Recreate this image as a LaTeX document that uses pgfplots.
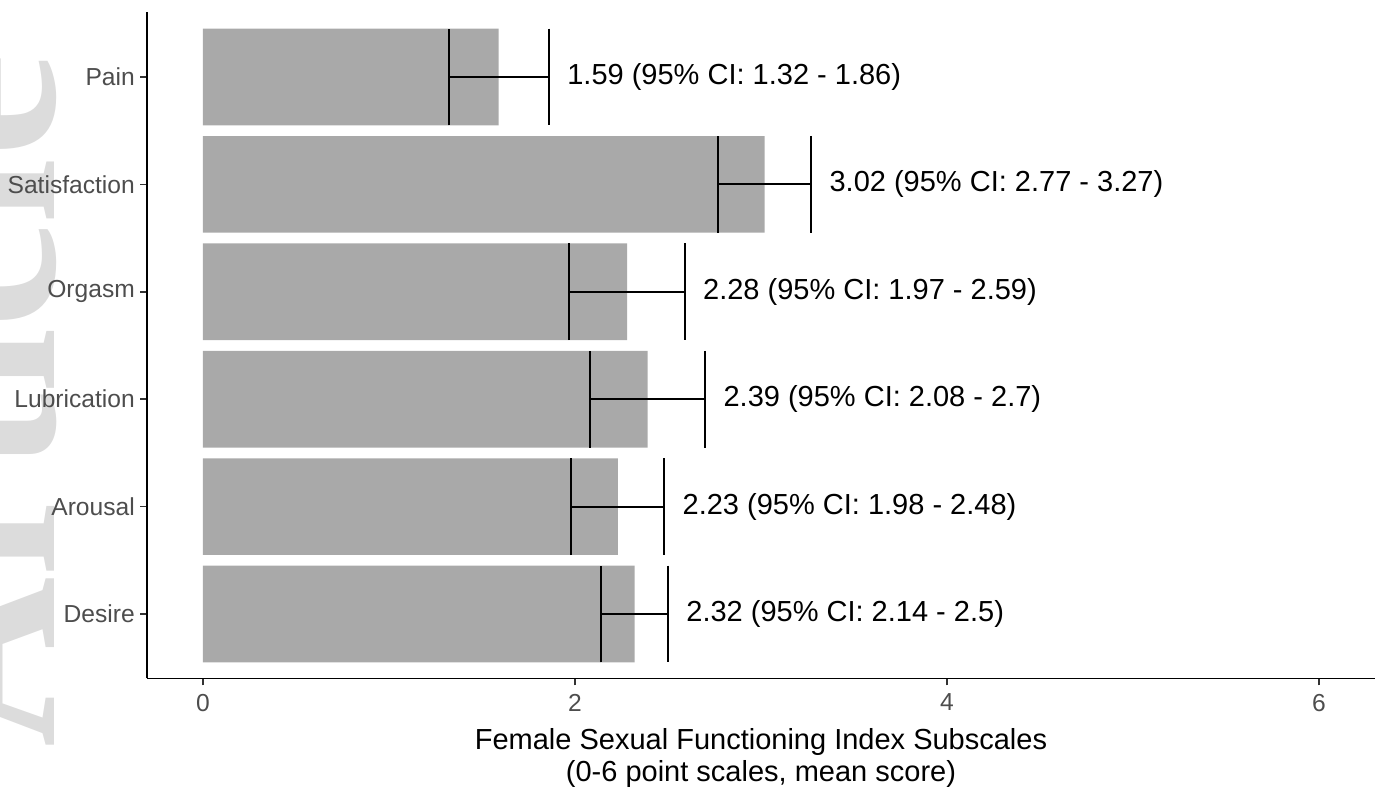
\documentclass[border=0pt]{standalone}
\usepackage{pgfplots}
\pgfplotsset{compat=1.18}
\usepackage{fontspec}
\setmainfont{Liberation Sans}
\newfontfamily\wmfont{Liberation Serif}
\definecolor{bargray}{HTML}{A9A9A9}
\definecolor{ticklab}{HTML}{4D4D4D}
\definecolor{tickcol}{HTML}{333333}
\definecolor{wmgray}{HTML}{DCDCDC}
\begin{document}
\begin{tikzpicture}
\node[rotate=90, anchor=base west, inner sep=0pt, text=wmgray, font=\wmfont\bfseries\fontsize{118}{118}\selectfont] at (27pt,22pt) {Article};
\begin{axis}[
  at={(73.6pt,56.75pt)}, anchor=south west,
  scale only axis, width=613.8pt, height=333pt,
  xmin=-0.3, xmax=6.3, ymin=0.4, ymax=6.6,
  axis lines*=left, axis line style={line width=0.8pt, black, -},
  xtick={0,2,4,6}, ytick={1,2,3,4,5,6},
  yticklabels={Desire,Arousal,Lubrication,Orgasm,Satisfaction,Pain},
  tick align=outside, major tick length=3.5pt,
  tick style={tickcol, line width=0.8pt},
  ticklabel style={font=\fontsize{12.3}{14}\selectfont, text=ticklab},
  yticklabel style={inner sep=0pt, xshift=-2.5pt},
  xticklabel style={inner sep=0pt, yshift=-4pt},
  /pgf/number format/assume math mode=true,
  xlabel={Female Sexual Functioning Index Subscales\\(0-6 point scales, mean score)},
  xlabel style={at={(axis description cs:0.5,0)}, anchor=north, inner sep=0pt, yshift=-25pt, align=center, font=\fontsize{14.5}{16}\selectfont},
  clip=false,
]
\addplot[xbar, bar width=0.9, fill=bargray, draw=none] coordinates {
  (2.32,1) (2.23,2) (2.39,3) (2.28,4) (3.02,5) (1.59,6)
};
\addplot[draw=none, mark=none, forget plot,
  error bars/.cd, x dir=both, x explicit,
  error mark=|,
  error bar style={draw=black, line width=1pt},
  error mark options={draw=black, line width=1pt, mark size=24.2pt}]
  coordinates {
  (2.32,1) +- (0.18,0)
  (2.23,2) +- (0.25,0)
  (2.39,3) +- (0.31,0)
  (2.28,4) +- (0.31,0)
  (3.02,5) +- (0.25,0)
  (1.59,6) +- (0.27,0)
};
\addplot[only marks, mark=*, mark size=0pt, mark options={draw=none, fill=none},
  point meta=explicit symbolic, nodes near coords,
  nodes near coords style={anchor=west, inner sep=0pt, xshift=9pt, font=\fontsize{14.5}{16}\selectfont, text=black}]
  coordinates {
  (2.50,1) [2.32 (95\% CI: 2.14 - 2.5)]
  (2.48,2) [2.23 (95\% CI: 1.98 - 2.48)]
  (2.70,3) [2.39 (95\% CI: 2.08 - 2.7)]
  (2.59,4) [2.28 (95\% CI: 1.97 - 2.59)]
  (3.27,5) [3.02 (95\% CI: 2.77 - 3.27)]
  (1.86,6) [1.59 (95\% CI: 1.32 - 1.86)]
};
\end{axis}
\pgfresetboundingbox
\path (0pt,0pt) rectangle (694.5pt,396pt);
\end{tikzpicture}
\end{document}
